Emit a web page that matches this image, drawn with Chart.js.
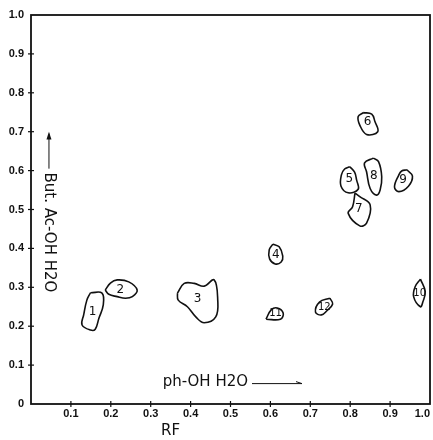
<!DOCTYPE html>
<html>
<head>
<meta charset="utf-8">
<script src="https://cdn.jsdelivr.net/npm/chart.js@4"></script>
<style>
  body { margin: 0; background: #fff; }
</style>
</head>
<body>
<canvas id="chart" width="433" height="440"></canvas>
<script>
// spot outlines (x = RF phenol, y = RF butanol/acetic)
var spot1 = [[0.149,0.286],[0.178,0.285],[0.181,0.254],[0.170,0.220],[0.161,0.192],[0.149,0.190],[0.128,0.203],[0.132,0.229],[0.140,0.267]];
var spot2 = [[0.186,0.293],[0.199,0.311],[0.216,0.319],[0.245,0.314],[0.266,0.293],[0.254,0.276],[0.237,0.272],[0.216,0.276],[0.195,0.282]];
var spot3 = [[0.367,0.285],[0.384,0.310],[0.409,0.310],[0.434,0.303],[0.459,0.319],[0.468,0.267],[0.463,0.224],[0.434,0.209],[0.413,0.224],[0.392,0.250],[0.369,0.267]];
var spot4 = [[0.606,0.411],[0.622,0.404],[0.631,0.380],[0.627,0.365],[0.612,0.360],[0.598,0.373],[0.597,0.396]];
var spot5 = [[0.799,0.610],[0.811,0.596],[0.816,0.576],[0.820,0.552],[0.795,0.543],[0.777,0.560],[0.778,0.589],[0.786,0.604]];
var spot6 = [[0.833,0.749],[0.854,0.745],[0.862,0.726],[0.869,0.700],[0.841,0.693],[0.824,0.717],[0.820,0.739]];
var spot7 = [[0.812,0.542],[0.824,0.533],[0.850,0.512],[0.841,0.465],[0.824,0.458],[0.795,0.490],[0.806,0.507]];
var spot8 = [[0.858,0.632],[0.871,0.623],[0.879,0.584],[0.875,0.550],[0.866,0.537],[0.850,0.554],[0.841,0.597],[0.836,0.620]];
var spot9 = [[0.942,0.602],[0.956,0.586],[0.946,0.560],[0.922,0.546],[0.911,0.558],[0.922,0.589],[0.929,0.599]];
var spot10 = [[0.976,0.321],[0.988,0.289],[0.982,0.262],[0.976,0.250],[0.959,0.276],[0.963,0.302]];
var spot11 = [[0.589,0.218],[0.602,0.242],[0.617,0.247],[0.632,0.234],[0.625,0.218]];
var spot12 = [[0.749,0.272],[0.756,0.257],[0.741,0.239],[0.728,0.229],[0.713,0.236],[0.723,0.262]];

var spots = [spot1, spot2, spot3, spot4, spot5, spot6, spot7, spot8, spot9, spot10, spot11, spot12];
var spotLabels = ["1", "2", "3", "4", "5", "6", "7", "8", "9", "10", "11", "12"];
var tickValues = [0, 0.1, 0.2, 0.3, 0.4, 0.5, 0.6, 0.7, 0.8, 0.9, 1.0];

var datasets = spots.map(function (pts, i) {
  var d = pts.map(function (p) { return { x: p[0], y: p[1] }; });
  d.push({ x: pts[0][0], y: pts[0][1] }); // close the outline
  return {
    label: spotLabels[i],
    data: d,
    showLine: true,
    tension: 0.4,
    borderColor: "#111",
    borderWidth: 1.6,
    pointRadius: 0,
    fill: false,
  };
});

// frame, crossing tick marks, spot numbers and the hand-lettered axis notes
var paperPlugin = {
  id: "paper",
  afterDraw: function (chart) {
    var c = chart.ctx, a = chart.chartArea;
    var xs = chart.scales.x, ys = chart.scales.y;
    c.save();
    c.strokeStyle = "#111";
    c.lineWidth = 1.8;
    c.strokeRect(a.left, a.top, a.right - a.left, a.bottom - a.top);

    c.lineWidth = 1.2;
    tickValues.forEach(function (v) {
      if (v > 0 && v < 1) {
        var px = xs.getPixelForValue(v);
        c.beginPath(); c.moveTo(px, a.bottom - 3); c.lineTo(px, a.bottom + 3); c.stroke();
        var py = ys.getPixelForValue(v);
        c.beginPath(); c.moveTo(a.left - 3, py); c.lineTo(a.left + 3, py); c.stroke();
      }
    });

    // spot numbers at the centre of each outline
    c.fillStyle = "#111";
    c.textAlign = "center";
    c.textBaseline = "middle";
    spots.forEach(function (pts, i) {
      var sx = 0, sy = 0;
      pts.forEach(function (p) { sx += p[0]; sy += p[1]; });
      var n = spotLabels[i];
      c.font = (n.length > 1 ? "10px" : "12px") + " 'DejaVu Sans', sans-serif";
      c.fillText(n, xs.getPixelForValue(sx / pts.length), ys.getPixelForValue(sy / pts.length));
    });

    // x solvent note with arrow
    c.font = "15px 'DejaVu Sans', sans-serif";
    c.textAlign = "left";
    var nx = xs.getPixelForValue(0.33);
    var ny = ys.getPixelForValue(0.055);
    c.fillText("ph-OH H2O", nx, ny);
    var ax0 = nx + c.measureText("ph-OH H2O").width + 4;
    c.lineWidth = 1;
    c.beginPath();
    c.moveTo(ax0, ny + 1); c.lineTo(ax0 + 50, ny + 1);
    c.moveTo(ax0 + 44, ny - 1); c.lineTo(ax0 + 50, ny + 1);
    c.stroke();

    // y solvent note, rotated, arrow pointing up
    var tx = xs.getPixelForValue(0.045);
    c.beginPath();
    c.moveTo(tx, ys.getPixelForValue(0.605)); c.lineTo(tx, ys.getPixelForValue(0.695));
    c.stroke();
    c.beginPath();
    c.moveTo(tx, ys.getPixelForValue(0.70));
    c.lineTo(tx - 2.5, ys.getPixelForValue(0.68));
    c.lineTo(tx + 2.5, ys.getPixelForValue(0.68));
    c.closePath(); c.fill();
    c.translate(tx, ys.getPixelForValue(0.595));
    c.rotate(Math.PI / 2);
    c.textBaseline = "middle";
    c.font = "15px 'DejaVu Sans', sans-serif";
    c.fillText("But. Ac-OH H2O", 0, 0);
    c.restore();

    // RF label under the x axis
    c.save();
    c.font = "15px 'DejaVu Sans', sans-serif";
    c.fillStyle = "#111";
    c.textAlign = "center";
    c.textBaseline = "middle";
    c.fillText("RF", xs.getPixelForValue(0.35), 431);
    c.restore();
  },
};

var ctx = document.getElementById("chart").getContext("2d");
var myChart = new Chart(ctx, {
  type: "scatter",
  data: { datasets: datasets },
  plugins: [paperPlugin],
  options: {
    responsive: false,
    animation: false,
    layout: { padding: { top: 15, right: 3, left: 0, bottom: 0 } },
    plugins: {
      legend: { display: false },
      tooltip: { enabled: false },
    },
    scales: {
      x: {
        type: "linear",
        min: 0,
        max: 1,
        afterBuildTicks: function (s) { s.ticks = tickValues.map(function (v) { return { value: v }; }); },
        afterFit: function (s) { s.height = 36; s.paddingRight = 0; s.paddingLeft = 0; },
        grid: { display: false },
        border: { display: false },
        ticks: {
          color: "#111",
          padding: -5,
          maxRotation: 0,
          align: "inner",
          font: { family: "'Liberation Sans', sans-serif", size: 11, weight: "bold" },
          callback: function (v) { return v === 0 ? "" : v.toFixed(1); },
        },
      },
      y: {
        type: "linear",
        min: 0,
        max: 1,
        afterBuildTicks: function (s) { s.ticks = tickValues.map(function (v) { return { value: v }; }); },
        afterFit: function (s) { s.width = 31; s.paddingTop = 0; s.paddingBottom = 0; },
        grid: { display: false, drawTicks: false },
        border: { display: false },
        ticks: {
          color: "#111",
          padding: 7,
          font: { family: "'Liberation Sans', sans-serif", size: 11, weight: "bold" },
          callback: function (v) { return v === 0 ? "0" : v.toFixed(1); },
        },
      },
    },
  },
});
</script>
</body>
</html>
